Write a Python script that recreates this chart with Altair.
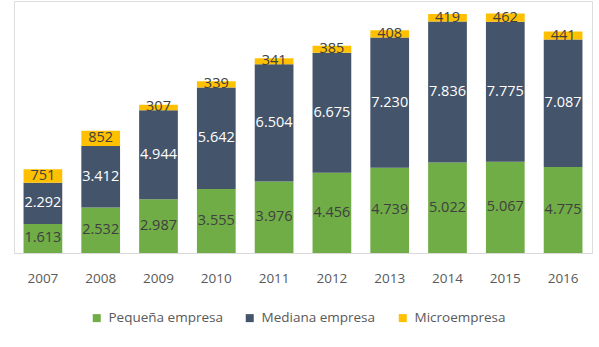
import altair as alt
import pandas as pd

years = ["2007", "2008", "2009", "2010", "2011", "2012", "2013", "2014", "2015", "2016"]
pequena = [1613, 2532, 2987, 3555, 3976, 4456, 4739, 5022, 5067, 4775]
mediana = [2292, 3412, 4944, 5642, 6504, 6675, 7230, 7836, 7775, 7087]
micro = [751, 852, 307, 339, 341, 385, 408, 419, 462, 441]

series = ["Pequeña empresa", "Mediana empresa", "Microempresa"]
colors = ["#70AD47", "#44546A", "#FFC000"]
label_colors = ["#404040", "#FFFFFF", "#404040"]

rows = []
for i, y in enumerate(years):
    for k, (name, vals) in enumerate(zip(series, [pequena, mediana, micro])):
        rows.append({"year": y, "serie": name, "value": vals[i], "order": k,
                     "lc": label_colors[k]})
df = pd.DataFrame(rows)

FONT = "Open Sans"

base = alt.Chart(df).transform_stack(
    stack="value", groupby=["year"], as_=["y0", "y1"],
    sort=[alt.SortField("order", order="ascending")]
).transform_calculate(
    mid="(datum.y0 + datum.y1) / 2",
    lab="replace(format(datum.value, ','), ',', '.')"
)

xenc = alt.X("year:N", title=None,
             scale=alt.Scale(paddingInner=0.33, paddingOuter=0.165),
             axis=alt.Axis(labelAngle=0, ticks=False, domainColor="#D9D9D9",
                           domainWidth=1, labelFont=FONT, labelFontSize=13.5,
                           labelColor="#595959", labelPadding=18))
ysc = alt.Scale(domain=[0, 14000], nice=False)

bars = base.mark_bar().encode(
    x=xenc,
    y=alt.Y("y0:Q", scale=ysc, axis=None),
    y2="y1:Q",
    color=alt.Color("serie:N", scale=alt.Scale(domain=series, range=colors),
                    sort=series,
                    legend=alt.Legend(title=None, orient="none", direction="horizontal",
                                      legendX=76, legendY=310, columns=3,
                                      symbolType="square", symbolSize=64,
                                      symbolStrokeWidth=0, symbolOpacity=1,
                                      labelFont=FONT, labelFontSize=13.5,
                                      labelColor="#595959", labelOffset=5,
                                      columnPadding=20, padding=0)),
)

texts = base.mark_text(font=FONT, fontSize=14.5, baseline="middle").encode(
    x=xenc,
    y=alt.Y("mid:Q", scale=ysc, axis=None),
    text="lab:N",
    color=alt.Color("lc:N", scale=None),
)

chart = alt.layer(bars, texts).properties(
    width=578, height=252,
    autosize=alt.AutoSizeParams(type="none"),
    padding={"left": 14, "top": 1, "right": 7, "bottom": 94},
).configure_view(stroke=None).configure(background="white")

chart.save("out.html", embed_options={"renderer": "svg", "actions": False})
